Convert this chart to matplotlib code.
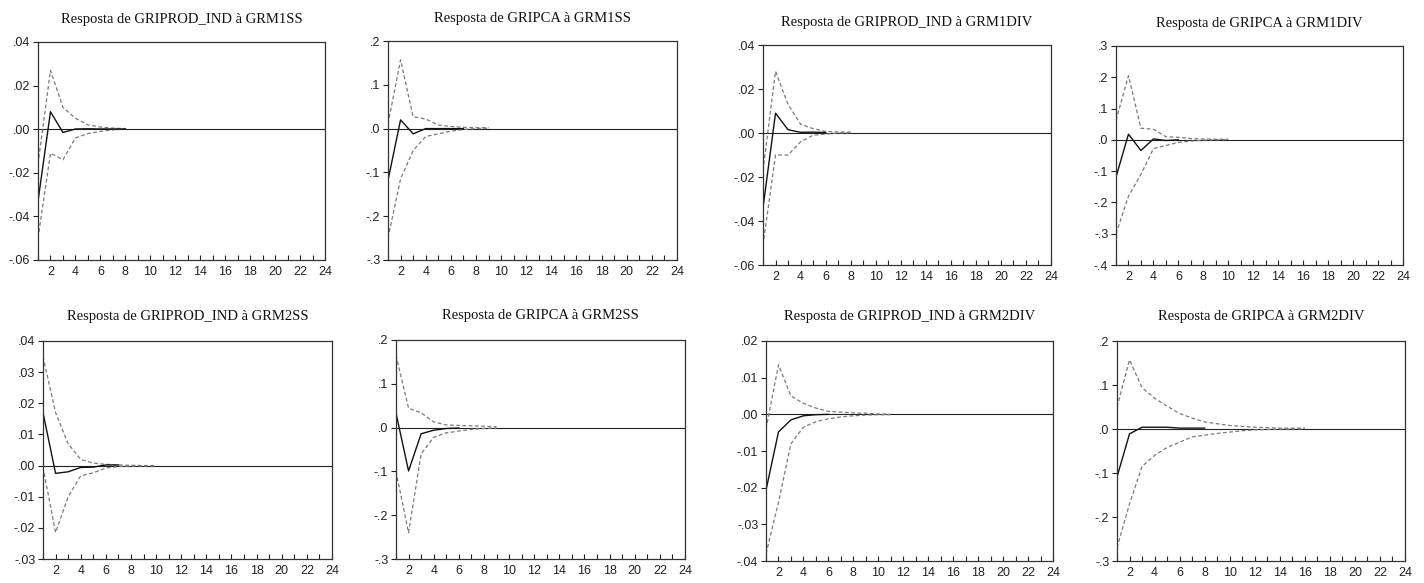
import matplotlib
matplotlib.use("Agg")
import matplotlib.pyplot as plt
from matplotlib.ticker import FuncFormatter, MultipleLocator

# impulse responses, periods start at 1
titles = [
    "Resposta de GRIPROD_IND à GRM1SS",
    "Resposta de GRIPCA à GRM1SS",
    "Resposta de GRIPROD_IND à GRM1DIV",
    "Resposta de GRIPCA à GRM1DIV",
    "Resposta de GRIPROD_IND à GRM2SS",
    "Resposta de GRIPCA à GRM2SS",
    "Resposta de GRIPROD_IND à GRM2DIV",
    "Resposta de GRIPCA à GRM2DIV",
]

resp1 = [-0.033, 0.008, -0.0015, 0.0001, 0.0002, 0.0001, 0.0001, 0.0001]
up1 = [-0.016, 0.027, 0.010, 0.005, 0.002, 0.001, 0.0005, 0.0003]
lo1 = [-0.050, -0.011, -0.014, -0.004, -0.002, -0.001, -0.0003, 0.0001]

resp2 = [-0.118, 0.020, -0.012, 0.0, 0.0, 0.0, 0.0]
up2 = [0.011, 0.157, 0.027, 0.022, 0.008, 0.005, 0.003, 0.002, 0.002]
lo2 = [-0.250, -0.115, -0.050, -0.018, -0.012, -0.006, -0.002, 0.0, 0.001]

resp3 = [-0.034, 0.009, 0.0015, 0.0003, 0.0004, 0.0002]
up3 = [-0.017, 0.028, 0.013, 0.004, 0.002, 0.0007, 0.0005, 0.0004]
lo3 = [-0.051, -0.010, -0.010, -0.004, -0.001, -0.0005, 0.0, 0.0001]

resp4 = [-0.119, 0.018, -0.034, 0.003, -0.002, 0.0]
up4 = [0.062, 0.205, 0.037, 0.034, 0.010, 0.008, 0.004, 0.003, 0.002, 0.002]
lo4 = [-0.300, -0.180, -0.110, -0.028, -0.018, -0.008, -0.004, -0.001, 0.0, 0.001]

resp5 = [0.017, -0.0025, -0.002, -0.0006, -0.0005, 0.0002, 0.0002]
up5 = [0.035, 0.017, 0.007, 0.002, 0.0008, 0.0004, 0.0002, 0.0001, 0.0, 0.0]
lo5 = [-0.0005, -0.0215, -0.010, -0.0033, -0.0023, -0.0008, -0.0003, -0.0002, -0.0001, -0.0001]

resp6 = [0.033, -0.099, -0.014, -0.006, -0.002, -0.001]
up6 = [0.165, 0.044, 0.034, 0.013, 0.006, 0.005, 0.004, 0.003, 0.002]
lo6 = [-0.100, -0.240, -0.060, -0.022, -0.012, -0.008, -0.004, -0.002, -0.001]

resp7 = [-0.0207, -0.0048, -0.0015, -0.0004, -0.0001, 0.0]
up7 = [-0.004, 0.0135, 0.005, 0.003, 0.0017, 0.0008, 0.0006, 0.0004, 0.0003, 0.0001, 0.0]
lo7 = [-0.038, -0.024, -0.008, -0.0035, -0.002, -0.0012, -0.0007, -0.0004, -0.0002, -0.0001, -0.0001]

resp8 = [-0.109, -0.011, 0.004, 0.004, 0.004, 0.002, 0.002, 0.002]
up8 = [0.050, 0.157, 0.094, 0.070, 0.052, 0.035, 0.025, 0.016, 0.012, 0.008, 0.006, 0.004, 0.003, 0.002, 0.002, 0.002]
lo8 = [-0.270, -0.170, -0.085, -0.060, -0.042, -0.030, -0.018, -0.014, -0.010, -0.007, -0.004, -0.002, -0.001, -0.0005, 0.0, 0.0005]

responses = [resp1, resp2, resp3, resp4, resp5, resp6, resp7, resp8]
uppers = [up1, up2, up3, up4, up5, up6, up7, up8]
lowers = [lo1, lo2, lo3, lo4, lo5, lo6, lo7, lo8]

ylims = [(-0.06, 0.04), (-0.3, 0.2), (-0.06, 0.04), (-0.4, 0.3),
         (-0.03, 0.04), (-0.3, 0.2), (-0.04, 0.02), (-0.3, 0.2)]
ysteps = [0.02, 0.1, 0.02, 0.1, 0.01, 0.1, 0.01, 0.1]
ydec = [2, 1, 2, 1, 2, 1, 2, 1]

# axes boxes in pixels: left, top, right, bottom
boxes = [(38, 42, 325, 260), (388, 41, 677, 260), (763, 45, 1051, 265), (1116, 46, 1403, 265),
         (43, 341, 332, 559), (396, 340, 685, 559), (766, 341, 1053, 561), (1117, 341, 1405, 561)]

W, H = 1424, 583
fig = plt.figure(figsize=(W / 100, H / 100), dpi=100)


def make_fmt(nd):
    def f(v, pos):
        s = f"{v:.{nd}f}"
        if s.startswith("-0"):
            s = "-" + s[2:]
        elif s.startswith("0"):
            s = s[1:]
        return s
    return f


for i in range(8):
    l, t, r, b = boxes[i]
    ax = fig.add_axes([l / W, 1 - b / H, (r - l) / W, (b - t) / H])
    x = list(range(1, 25))
    ax.plot([1, 24], [0, 0], color="#222222", lw=0.8)
    xr = list(range(1, len(responses[i]) + 1))
    xb = list(range(1, len(uppers[i]) + 1))
    ax.plot(xb, uppers[i], color="#7a7a7a", lw=0.9, ls=(0, (3, 2)))
    ax.plot(xb, lowers[i], color="#7a7a7a", lw=0.9, ls=(0, (3, 2)))
    ax.plot(xr, responses[i], color="#111111", lw=1.0)

    ax.set_xlim(1, 24)
    ax.set_ylim(*ylims[i])
    ax.set_xticks(x)
    ax.set_xticklabels([str(v) if v % 2 == 0 else "" for v in x])
    ax.yaxis.set_major_locator(MultipleLocator(ysteps[i]))
    ax.yaxis.set_major_formatter(FuncFormatter(make_fmt(ydec[i])))
    ax.tick_params(length=3.5, width=0.8, labelsize=9, colors="#222222")
    ax.tick_params(axis="x", direction="in", pad=4)
    ax.tick_params(axis="y", direction="out", pad=2)
    for lab in ax.get_xticklabels() + ax.get_yticklabels():
        lab.set_family("Liberation Sans")
    for sp in ax.spines.values():
        sp.set_color("#333333")
        sp.set_linewidth(0.9)
    ax.set_title(titles[i], family="Liberation Serif", fontsize=10.5,
                 pad=14 if i < 4 else 15, color="#111111")

fig.savefig("out.png", dpi=100)
